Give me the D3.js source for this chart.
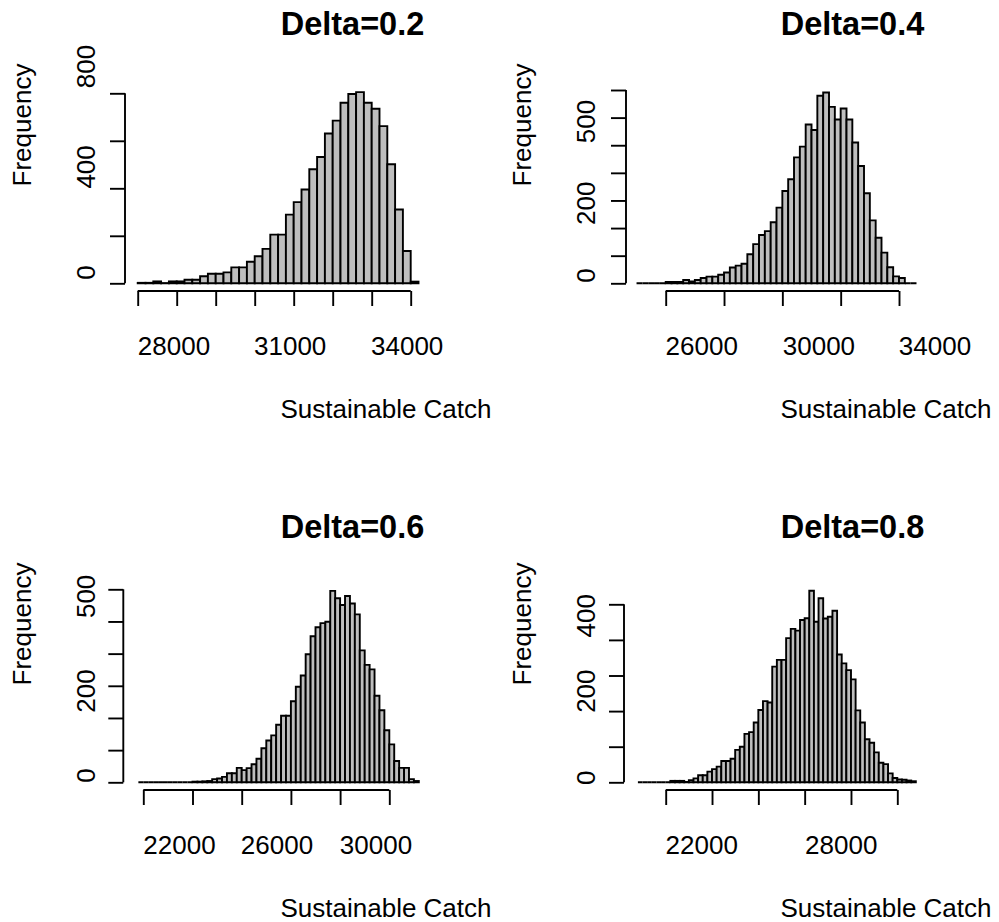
<!DOCTYPE html>
<html>
<head>
<meta charset="utf-8">
<script src="https://cdn.jsdelivr.net/npm/d3@7"></script>
<style>
  html, body { margin: 0; padding: 0; background: #fff; }
  svg { display: block; }
  text { font-family: "Liberation Sans", Arial, Helvetica, sans-serif; fill: #000; }
</style>
</head>
<body>
<svg id="chart" width="999" height="922"></svg>
<script>
// ---- data ---------------------------------------------------------------
const titles = ["Delta=0.2", "Delta=0.4", "Delta=0.6", "Delta=0.8"];
const xTitle = "Sustainable Catch";
const yTitle = "Frequency";
const binWidth = 200;

// first break of each histogram
const binStart = [27000, 23000, 19800, 18800];

// bin counts (width 200) for each delta
const counts02 = [2, 2, 8, 1, 8, 8, 15, 15, 30, 40, 40, 46, 67, 67, 91, 114, 145, 205,
  205, 289, 342, 395, 480, 532, 631, 685, 760, 797, 805, 760, 735, 662, 501, 311, 136, 7];
const counts04 = [0, 0, 0, 0, 0, 5, 5, 5, 12, 7, 12, 19, 24, 24, 31, 39, 57, 64, 71, 105,
  142, 175, 189, 221, 274, 334, 377, 456, 495, 575, 555, 679, 691, 639, 593, 633, 593,
  510, 425, 326, 228, 165, 111, 58, 25, 19, 0, 0];
const counts06 = [0, 0, 0, 0, 0, 0, 0, 0, 0, 0, 0, 2, 2, 3, 4, 10, 12, 17, 28, 28, 45, 38,
  44, 56, 73, 106, 130, 146, 179, 207, 207, 252, 297, 332, 398, 454, 482, 495, 499, 595,
  572, 551, 579, 556, 522, 410, 365, 351, 269, 224, 162, 118, 66, 45, 45, 10, 4];
const counts08 = [0, 0, 0, 0, 0, 0, 0, 4, 4, 4, 1, 6, 11, 20, 20, 30, 37, 44, 60, 60, 66,
  91, 100, 136, 141, 168, 203, 228, 224, 325, 344, 344, 405, 431, 426, 456, 461, 538, 451,
  517, 460, 465, 482, 359, 334, 315, 289, 202, 168, 121, 111, 84, 55, 51, 25, 12, 8, 7, 5, 3];

// axis tick marks
const xTicks02 = [27000, 28000, 29000, 30000, 31000, 32000, 33000, 34000];
const xTicks04 = [24000, 26000, 28000, 30000, 32000];
const xTicks06 = [20000, 22000, 24000, 26000, 28000, 30000];
const xTicks08 = [20000, 22000, 24000, 26000, 28000, 30000];
const yTicks02 = [0, 200, 400, 600, 800];
const yTicks04 = [0, 100, 200, 300, 400, 500, 600, 700];
const yTicks06 = [0, 100, 200, 300, 400, 500, 600];
const yTicks08 = [0, 100, 200, 300, 400, 500];

// tick label texts and the axis value each one is centred on
const xLabels02 = ["28000", "31000", "34000"], xLabelAt02 = [27930, 30910, 33910];
const xLabels04 = ["26000", "30000", "34000"], xLabelAt04 = [25235, 29255, 33235];
const xLabels06 = ["22000", "26000", "30000"], xLabelAt06 = [21470, 25435, 29460];
const xLabels08 = ["22000", "28000"],          xLabelAt08 = [21555, 27580];
const yLabels02 = ["0", "400", "800"], yLabelAt02 = [45, 490, 913];
const yLabels04 = ["0", "200", "500"], yLabelAt04 = [28, 290, 586];
const yLabels06 = ["0", "200", "500"], yLabelAt06 = [21, 284, 578];
const yLabels08 = ["0", "200", "400"], yLabelAt08 = [13, 256, 468];

// ---- layout -------------------------------------------------------------
const layout = [
  { xr: [137.7, 410.7], yr: [283.3, 93.3],  yAxisX: 125,   xAxisY: 291, col: 0, row: 0 },
  { xr: [665.7, 899.0], yr: [283.3, 90.0],  yAxisX: 626,   xAxisY: 291, col: 1, row: 0 },
  { xr: [143.3, 389.3], yr: [782.3, 589.3], yAxisX: 123.3, xAxisY: 790, col: 0, row: 1 },
  { xr: [665.7, 897.3], yr: [782.3, 604.3], yAxisX: 624,   xAxisY: 790, col: 1, row: 1 }
];
const colX = [0, 500];     // horizontal offset of each column
const rowY = [0, 499];     // vertical offset of each row
const titleY = [35, 538];  // title baselines per row

const panels = [
  { counts: counts02, xTicks: xTicks02, yTicks: yTicks02, xLabels: xLabels02, xLabelAt: xLabelAt02, yLabels: yLabels02, yLabelAt: yLabelAt02 },
  { counts: counts04, xTicks: xTicks04, yTicks: yTicks04, xLabels: xLabels04, xLabelAt: xLabelAt04, yLabels: yLabels04, yLabelAt: yLabelAt04 },
  { counts: counts06, xTicks: xTicks06, yTicks: yTicks06, xLabels: xLabels06, xLabelAt: xLabelAt06, yLabels: yLabels06, yLabelAt: yLabelAt06 },
  { counts: counts08, xTicks: xTicks08, yTicks: yTicks08, xLabels: xLabels08, xLabelAt: xLabelAt08, yLabels: yLabels08, yLabelAt: yLabelAt08 }
];

const svg = d3.select("#chart");
const LINE = 1.9;
const FONT = 26;

panels.forEach((p, i) => {
  const L = layout[i];
  const ox = colX[L.col], oy = rowY[L.row];
  const xTickMin = d3.min(p.xTicks), xTickMax = d3.max(p.xTicks);
  const x = d3.scaleLinear().domain([xTickMin, xTickMax]).range(L.xr);
  const y = d3.scaleLinear().domain([0, d3.max(p.yTicks)]).range(L.yr);
  const g = svg.append("g");

  // histogram bars (drawn as closed paths so empty bins still show a base line)
  const bins = p.counts.map((c, k) => ({
    x0: binStart[i] + k * binWidth,
    x1: binStart[i] + (k + 1) * binWidth,
    n: c
  }));
  g.append("g").selectAll("path").data(bins).join("path")
    .attr("d", b => {
      const a = x(b.x0), c = x(b.x1), base = y(0), top = y(b.n);
      return `M${a},${base}V${top}H${c}V${base}Z`;
    })
    .attr("fill", "#bebebe")
    .attr("stroke", "#000")
    .attr("stroke-width", LINE)
    .attr("stroke-linejoin", "miter");

  // x axis
  const xAxis = d3.axisBottom(x).tickValues(p.xTicks).tickSize(15).tickSizeOuter(0).tickFormat("");
  const gx = g.append("g").attr("transform", `translate(0,${L.xAxisY})`).call(xAxis);
  gx.selectAll("path, line").attr("stroke", "#000").attr("stroke-width", LINE);
  gx.selectAll("path").attr("d", `M${x(xTickMin)},0H${x(xTickMax)}`);
  g.append("g").selectAll("text").data(p.xLabels).join("text")
    .attr("x", (d, k) => x(p.xLabelAt[k]))
    .attr("y", oy + 355)
    .attr("text-anchor", "middle")
    .attr("font-size", FONT)
    .text(d => d);

  // y axis
  const yAxis = d3.axisLeft(y).tickValues(p.yTicks).tickSize(15).tickSizeOuter(0).tickFormat("");
  const gy = g.append("g").attr("transform", `translate(${L.yAxisX},0)`).call(yAxis);
  gy.selectAll("path, line").attr("stroke", "#000").attr("stroke-width", LINE);
  gy.selectAll("path").attr("d", `M0,${y(0)}V${y(d3.max(p.yTicks))}`);
  g.append("g").selectAll("text").data(p.yLabels).join("text")
    .attr("transform", (d, k) => `translate(${ox + 95},${y(p.yLabelAt[k])}) rotate(-90)`)
    .attr("text-anchor", "middle")
    .attr("font-size", FONT)
    .text(d => d);

  // titles
  g.append("text")
    .attr("x", ox + 352.5).attr("y", titleY[L.row])
    .attr("text-anchor", "middle")
    .attr("font-size", 32.5).attr("font-weight", "bold")
    .text(titles[i]);
  g.append("text")
    .attr("x", ox + 386).attr("y", oy + 418)
    .attr("text-anchor", "middle")
    .attr("font-size", FONT)
    .text(xTitle);
  g.append("text")
    .attr("transform", `translate(${ox + 30.5},${oy + 125}) rotate(-90)`)
    .attr("text-anchor", "middle")
    .attr("font-size", FONT)
    .text(yTitle);
});
</script>
</body>
</html>
